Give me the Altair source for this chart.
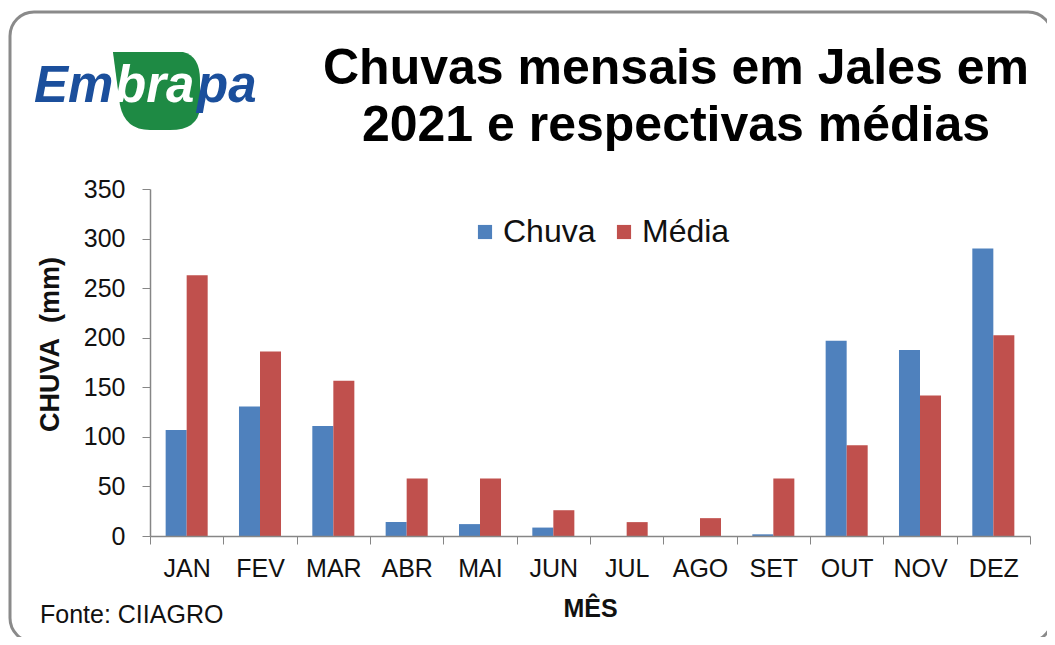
import altair as alt
import pandas as pd

# ---- data ----
months = ["JAN", "FEV", "MAR", "ABR", "MAI", "JUN", "JUL", "AGO", "SET", "OUT", "NOV", "DEZ"]
chuva = [107, 130.5, 111, 14, 12, 8.5, 0, 0, 1.7, 197, 187.5, 290]
media = [263, 186, 156.5, 58, 58, 26, 14, 18, 58, 91.5, 141.7, 202.5]
series = ["Chuva", "Média"]
colors = ["#4F81BD", "#C0504D"]
y_ticks = [0, 50, 100, 150, 200, 250, 300, 350]

title_lines = ["Chuvas mensais em Jales em", "2021 e respectivas médias"]
source_text = "Fonte: CIIAGRO"
logo_parts = ["Em", "bra", "pa"]

FONT = "Liberation Sans"

rows = []
for m, c, md in zip(months, chuva, media):
    rows.append({"mes": m, "serie": "Chuva", "valor": c})
    rows.append({"mes": m, "serie": "Média", "valor": md})
df = pd.DataFrame(rows)

# ---- decorative frame ----
frame = alt.Chart(pd.DataFrame({"k": [0]})).mark_rect(
    fill="white", fillOpacity=0, stroke="#8a8a8a", strokeWidth=3, cornerRadius=24
).encode(
    x=alt.value(-140), x2=alt.value(902), y=alt.value(-177), y2=alt.value(453)
)

# ---- bars ----
bars = alt.Chart(df).mark_bar().encode(
    x=alt.X(
        "mes:N",
        sort=months,
        scale=alt.Scale(paddingInner=0, paddingOuter=0),
        axis=alt.Axis(
            title="MÊS",
            labelAngle=0,
            tickBand="extent",
            labelFont=FONT,
            labelFontSize=25,
            labelColor="#111111",
            labelPadding=12,
            tickSize=8,
            tickColor="#868686",
            domainColor="#868686",
            domainWidth=1.5,
            titleFont=FONT,
            titleFontSize=25,
            titleFontWeight="bold",
            titleColor="#111111",
            titlePadding=15,
            zindex=2,
        ),
    ),
    xOffset=alt.XOffset(
        "serie:N", sort=series, scale=alt.Scale(paddingInner=0, paddingOuter=0.745)
    ),
    y=alt.Y(
        "valor:Q",
        scale=alt.Scale(domain=[0, 350], nice=False),
        axis=alt.Axis(
            values=y_ticks,
            grid=False,
            title="CHUVA\u00a0\u00a0(mm)",
            labelFont=FONT,
            labelFontSize=25,
            labelColor="#111111",
            labelPadding=17,
            tickSize=8,
            tickColor="#868686",
            domainColor="#868686",
            domainWidth=1.5,
            titleFont=FONT,
            titleFontSize=27,
            titleFontWeight="bold",
            titleColor="#111111",
            titleX=-92,
            titleY=155,
            titleBaseline="alphabetic",
            titleAngle=270,
            zindex=2,
        ),
    ),
    color=alt.Color(
        "serie:N",
        sort=series,
        scale=alt.Scale(domain=series, range=colors),
        legend=alt.Legend(
            title=None,
            orient="none",
            direction="horizontal",
            legendX=319,
            legendY=27,
            symbolType="square",
            symbolSize=200,
            symbolStrokeWidth=0,
            labelFont=FONT,
            labelFontSize=32,
            labelColor="#111111",
            labelOffset=2,
            columnPadding=12,
            padding=0,
        ),
    ),
)

# ---- title ----
title_df = pd.DataFrame({"t": title_lines, "row": [0, 1]})
title1 = alt.Chart(title_df[title_df.row == 0]).mark_text(
    font=FONT, fontSize=50, fontWeight="bold", align="center", baseline="alphabetic", color="#000000"
).encode(text="t:N", x=alt.value(526), y=alt.value(-105))
title2 = alt.Chart(title_df[title_df.row == 1]).mark_text(
    font=FONT, fontSize=50, fontWeight="bold", align="center", baseline="alphabetic", color="#000000"
).encode(text="t:N", x=alt.value(526), y=alt.value(-48))

# ---- source note ----
source = alt.Chart(pd.DataFrame({"t": [source_text]})).mark_text(
    font=FONT, fontSize=25, align="left", baseline="alphabetic", color="#111111"
).encode(text="t:N", x=alt.value(-110), y=alt.value(434))

# ---- Embrapa logo ----
leaf_path = (
    "M -0.99 -0.886 L 0.602 -0.886 Q 0.989 -0.795 0.989 -0.25 L 0.989 0.386 "
    "Q 0.943 0.886 0.307 0.886 L -0.148 0.886 Q -0.716 0.886 -0.83 0.318 Z"
)
leaf = alt.Chart(pd.DataFrame({"k": [0]})).mark_point(
    shape=leaf_path, filled=True, fill="#1E8A44", fillOpacity=1, strokeWidth=0, size=7744
).encode(x=alt.value(6.5), y=alt.value(-98))

logo_df = pd.DataFrame({"t": logo_parts})
logo_em = alt.Chart(logo_df[logo_df.t == "Em"]).mark_text(
    font=FONT, fontSize=51, fontWeight="bold", fontStyle="italic", align="left",
    baseline="alphabetic", color="#1B4F9C"
).encode(text="t:N", x=alt.value(-116), y=alt.value(-87))
logo_bra = alt.Chart(logo_df[logo_df.t == "bra"]).mark_text(
    font=FONT, fontSize=51, fontWeight="bold", fontStyle="italic", align="left",
    baseline="alphabetic", color="#FFFFFF"
).encode(text="t:N", x=alt.value(-35), y=alt.value(-87))
logo_pa = alt.Chart(logo_df[logo_df.t == "pa"]).mark_text(
    font=FONT, fontSize=51, fontWeight="bold", fontStyle="italic", align="left",
    baseline="alphabetic", color="#1B4F9C"
).encode(text="t:N", x=alt.value(47), y=alt.value(-87))

chart = alt.layer(
    frame, leaf, logo_em, logo_bra, logo_pa, title1, title2, source, bars
).properties(
    width=880,
    height=347,
    autosize=alt.AutoSizeParams(type="none"),
    padding={"left": 142, "top": 181, "right": 17, "bottom": 101},
    background="white",
).configure_view(stroke=None)

chart.save("out.html", embed_options={"renderer": "svg", "actions": False})
